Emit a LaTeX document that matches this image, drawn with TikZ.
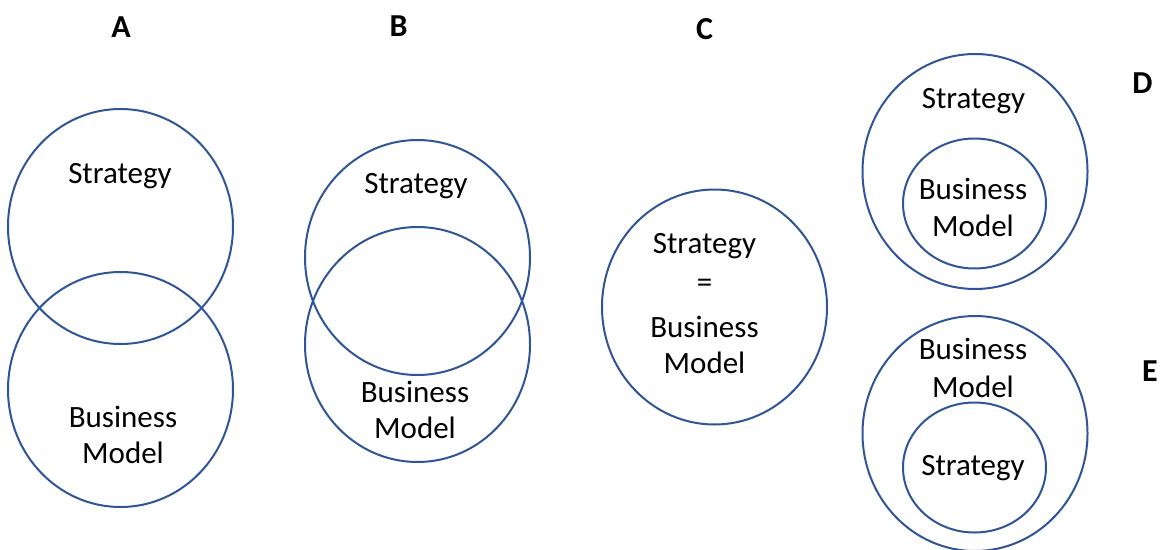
\documentclass[tikz,border=0pt]{standalone}
\usepackage{fontspec}
\setmainfont{Carlito}
\usetikzlibrary{shapes.geometric}
\definecolor{ringblue}{RGB}{47,85,151}
\tikzset{
  ring/.style={draw=ringblue, line width=2pt, ellipse, inner sep=0pt, minimum width=225pt, minimum height=235pt},
  smallring/.style={draw=ringblue, line width=2pt, ellipse, inner sep=0pt, minimum width=143pt, minimum height=130pt},
  lbl/.style={anchor=base, inner sep=0pt, font=\fontsize{31}{36}\selectfont},
  head/.style={anchor=center, inner sep=0pt, font=\fontsize{32}{36}\selectfont\bfseries}
}
\begin{document}
\begin{tikzpicture}[x=1pt,y=-1pt]
\useasboundingbox (0,0) rectangle (1162,549);
% headings
\node[head] (hA) at (121,27) {A};
\node[head] (hB) at (398.5,26) {B};
\node[head] (hC) at (704.5,29) {C};
\node[head] (hD) at (1142.5,83) {D};
\node[head] (hE) at (1150,371) {E};
% A
\node[ring] (a1) at (120.5,226.5) {};
\node[ring] (a2) at (120.5,389.5) {};
\node[lbl] (a1t) at (120,183) {Strategy};
\node[lbl] (a2t) at (123,427) {Business};
\node[lbl] (a2u) at (123,463) {Model};
% B
\node[ring] (b1) at (417.5,257.5) {};
\node[ring] (b2) at (417.5,344.5) {};
\node[lbl] (b1t) at (416,193) {Strategy};
\node[lbl] (b2t) at (415,402) {Business};
\node[lbl] (b2u) at (415,438) {Model};
% C
\node[ring] (c1) at (714.5,307) {};
\node[lbl] (c1t) at (704.5,253) {Strategy};
\node[lbl] (c1e) at (704.5,292) {=};
\node[lbl] (c1u) at (704.5,337) {Business};
\node[lbl] (c1v) at (704.5,373) {Model};
% D
\node[ring] (d1) at (975,171.5) {};
\node[smallring] (d2) at (974.5,203.5) {};
\node[lbl] (d1t) at (973.5,108) {Strategy};
\node[lbl] (d2t) at (973,199) {Business};
\node[lbl] (d2u) at (973,236) {Model};
% E
\node[ring] (e1) at (975,433.5) {};
\node[smallring] (e2) at (974.5,467.5) {};
\node[lbl] (e1t) at (973,359) {Business};
\node[lbl] (e1u) at (973,397) {Model};
\node[lbl] (e2t) at (973,475) {Strategy};
\end{tikzpicture}
\end{document}
